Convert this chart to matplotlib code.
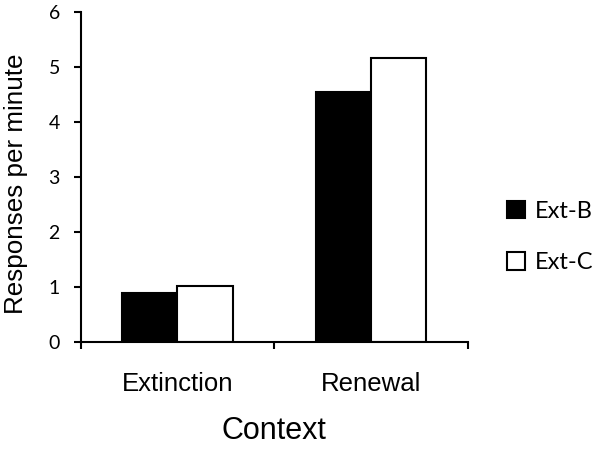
import matplotlib.pyplot as plt
import numpy as np

# data
contexts = ["Extinction", "Renewal"]
groups = ["Ext-B", "Ext-C"]
ext_b = [0.88, 4.54]
ext_c = [1.02, 5.15]
yticks = [0, 1, 2, 3, 4, 5, 6]

fig = plt.figure(figsize=(6.04, 4.54), dpi=100)
ax = fig.add_axes([0.1336, 0.2474, 0.6407, 0.7268])

x = np.arange(len(contexts))
w = 0.285
b1 = ax.bar(x - w / 2, ext_b, w, color="black", edgecolor="black", linewidth=1.5, label=groups[0])
b2 = ax.bar(x + w / 2, ext_c, w, color="white", edgecolor="black", linewidth=1.5, label=groups[1])

ax.set_xlim(-0.5, 1.5)
ax.set_ylim(0, 6)
for s in ["top", "right"]:
    ax.spines[s].set_visible(False)
for s in ["left", "bottom"]:
    ax.spines[s].set_linewidth(1.5)

ax.set_yticks(yticks)
ax.set_yticklabels([str(v) for v in yticks], fontfamily="Lato", fontsize=14)
ax.tick_params(axis="y", direction="out", length=5, width=1.5, pad=10)

ax.set_xticks(x)
ax.set_xticklabels(contexts, fontfamily="Liberation Sans", fontsize=18.5)
ax.tick_params(axis="x", which="major", length=0, pad=22)
ax.set_xticks([-0.5, 0.5, 1.5], minor=True)
ax.tick_params(axis="x", which="minor", direction="out", length=5, width=1.5)

ax.set_xlabel("Context", fontfamily="Liberation Sans", fontsize=22, labelpad=14)
fig.text(16 / 604, 1 - 183.5 / 454, "Responses per minute", rotation=90,
         ha="center", va="center", fontfamily="Liberation Sans", fontsize=18.7)

fig.legend(handles=[b1, b2], loc="center left", bbox_to_anchor=(486 / 604, 1 - 237 / 454),
           frameon=False, prop={"family": "Lato", "size": 17},
           handlelength=0.76, handleheight=0.76, handletextpad=0.42, labelspacing=1.3)

plt.savefig("out.png", dpi=100)
plt.close()
